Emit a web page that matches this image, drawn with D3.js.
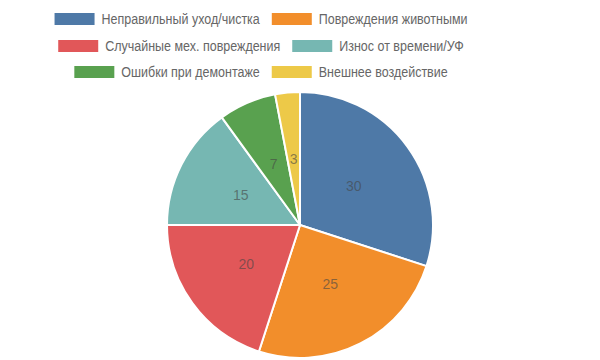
<!DOCTYPE html>
<html><head><meta charset="utf-8">
<script src="https://cdn.jsdelivr.net/npm/d3@7"></script>
<style>html,body{margin:0;padding:0;background:#fff}</style>
</head><body>
<svg id="chart" width="600" height="360"></svg>
<script>
const categories = ["Неправильный уход/чистка","Повреждения животными","Случайные мех. повреждения","Износ от времени/УФ","Ошибки при демонтаже","Внешнее воздействие"];
const values = [30, 25, 20, 15, 7, 3];
const colors = ["#4e79a7","#f28e2b","#e15759","#76b7b2","#59a14f","#edc948"];
const legendRows = [[0,1],[2,3],[4,5]];

const svg = d3.select("#chart");
const font = "'Liberation Sans', Arial, sans-serif";
const cx = 300, cy = 225, R = 133;
const sx = 0.833;

const rowY = [19, 46, 72];
const legendCenter = 261;
legendRows.forEach((row, ri) => {
  const g = svg.append("g");
  let x = 0;
  row.forEach((idx, k) => {
    if (k > 0) x += 12;
    g.append("rect").attr("x", x).attr("y", rowY[ri] - 6).attr("width", 40).attr("height", 12)
      .attr("fill", colors[idx]);
    const t = g.append("text")
      .attr("transform", `translate(${x + 47},${rowY[ri]}) scale(${sx},1)`)
      .attr("dy", "0.35em")
      .attr("font-family", font).attr("font-size", 15).attr("fill", "#666").text(categories[idx]);
    x += 47 + t.node().getComputedTextLength() * sx;
  });
  g.attr("transform", `translate(${legendCenter - x/2},0)`);
});

const pie = d3.pie().sort(null).value(d => d);
const arcs = pie(values);
const arc = d3.arc().innerRadius(0).outerRadius(R);
const labelArc = d3.arc().innerRadius(R*0.5).outerRadius(R*0.5);
const pg = svg.append("g").attr("transform", `translate(${cx},${cy})`);
pg.selectAll("path").data(arcs).join("path")
  .attr("d", arc).attr("fill", (d,i) => colors[i])
  .attr("stroke", "#fff").attr("stroke-width", 2);
pg.selectAll("text").data(arcs).join("text")
  .attr("transform", d => `translate(${labelArc.centroid(d)})`)
  .attr("text-anchor", "middle").attr("dy", "0.35em")
  .attr("font-family", font).attr("font-size", 14)
  .attr("fill", "#444").attr("fill-opacity", 0.6)
  .text(d => d.data);
</script>
</body></html>
